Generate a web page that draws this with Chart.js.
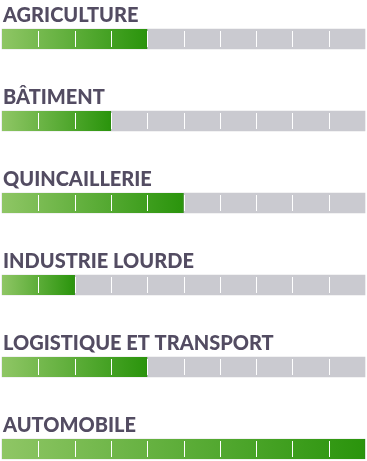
<!DOCTYPE html>
<html>
<head>
<meta charset="utf-8">
<script src="https://cdn.jsdelivr.net/npm/chart.js@4.4.0/dist/chart.umd.min.js"></script>
<style>
html,body{margin:0;padding:0;background:#fff;}
#wrap{position:relative;width:367px;height:461px;}
</style>
</head>
<body>
<div id="wrap"><canvas id="c" width="367" height="461"></canvas></div>
<script>
const categories = ["AGRICULTURE", "BÂTIMENT", "QUINCAILLERIE", "INDUSTRIE LOURDE", "LOGISTIQUE ET TRANSPORT", "AUTOMOBILE"];
const scores = [4, 3, 5, 2, 4, 10];
const maxScore = [10, 10, 10, 10, 10, 10];
const segmentTicks = [0, 1, 2, 3, 4, 5, 6, 7, 8, 9, 10];

function greenGradient(ctx) {
  const chart = ctx.chart;
  const area = chart.chartArea;
  if (!area) return '#5aac3a';
  const xs = chart.scales.x;
  const v = ctx.raw;
  const x0 = xs.getPixelForValue(0);
  const x1 = xs.getPixelForValue(v);
  const g = chart.ctx.createLinearGradient(x0, 0, Math.max(x1, x0 + 1), 0);
  g.addColorStop(0, '#8fc665');
  g.addColorStop(1, '#2a940c');
  return g;
}

const overlayPlugin = {
  id: 'overlay',
  afterDatasetsDraw(chart) {
    const ctx = chart.ctx;
    const xs = chart.scales.x;
    const meta = chart.getDatasetMeta(0);
    ctx.save();
    meta.data.forEach((bar, i) => {
      const top = bar.y - bar.height / 2;
      const bottom = bar.y + bar.height / 2;
      ctx.strokeStyle = '#ffffff';
      ctx.lineWidth = 1;
      segmentTicks.forEach(t => {
        if (t === 0 || t === segmentTicks[segmentTicks.length - 1]) return;
        const x = Math.round(xs.getPixelForValue(t)) + 0.5;
        ctx.beginPath();
        ctx.moveTo(x, top + 2);
        ctx.lineTo(x, bottom - 2);
        ctx.stroke();
      });
      ctx.fillStyle = '#534c62';
      ctx.font = '900 20px Lato';
      ctx.textBaseline = 'alphabetic';
      ctx.textAlign = 'left';
      ctx.fillText(categories[i], xs.getPixelForValue(0) + 1, top - 7);
    });
    ctx.restore();
  }
};

new Chart(document.getElementById('c'), {
  type: 'bar',
  data: {
    labels: categories,
    datasets: [
      {
        data: scores,
        backgroundColor: greenGradient,
        borderColor: '#2a8a0e',
        borderWidth: {top: 0, bottom: 0, left: 0, right: 1},
        borderSkipped: false,
        barThickness: 20,
        grouped: false,
        order: 0
      },
      {
        data: maxScore,
        backgroundColor: '#cacad0',
        borderWidth: 0,
        barThickness: 20,
        grouped: false,
        order: 1
      }
    ]
  },
  options: {
    indexAxis: 'y',
    responsive: false,
    animation: false,
    clip: false,
    layout: {padding: {top: 39, bottom: 12, left: 2, right: 2}},
    plugins: {legend: {display: false}, tooltip: {enabled: false}},
    scales: {
      x: {display: false, min: 0, max: 10},
      y: {display: false, offset: false}
    }
  },
  plugins: [overlayPlugin]
});
</script>
</body>
</html>
